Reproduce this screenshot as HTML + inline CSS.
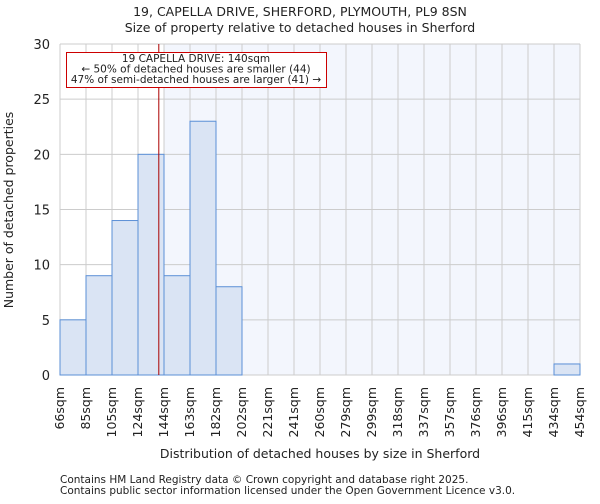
<!DOCTYPE html>
<html><head><meta charset="utf-8"><style>
body{margin:0;background:#fff;font-family:"DejaVu Sans","Liberation Sans",sans-serif}
svg text{font-family:"DejaVu Sans","Liberation Sans",sans-serif;fill:#222}
</style></head><body>
<svg id="chart" width="600" height="500" xmlns="http://www.w3.org/2000/svg">
<text x="300" y="16" font-size="12.5" text-anchor="middle">19, CAPELLA DRIVE, SHERFORD, PLYMOUTH, PL9 8SN</text>
<text x="300" y="32" font-size="12.5" text-anchor="middle">Size of property relative to detached houses in Sherford</text>
<g id="plot"></g>
<text x="320" y="458" font-size="12.5" text-anchor="middle">Distribution of detached houses by size in Sherford</text>
<text transform="translate(13,210) rotate(-90)" font-size="12.5" text-anchor="middle">Number of detached properties</text>
<text x="60" y="483" font-size="10.5">Contains HM Land Registry data © Crown copyright and database right 2025.</text>
<text x="60" y="494" font-size="10.5">Contains public sector information licensed under the Open Government Licence v3.0.</text>
</svg>
<script>
const binLabels=["66sqm","85sqm","105sqm","124sqm","144sqm","163sqm","182sqm","202sqm","221sqm","241sqm","260sqm","279sqm","299sqm","318sqm","337sqm","357sqm","376sqm","396sqm","415sqm","434sqm","454sqm"];
const counts=[5,9,14,20,9,23,8,0,0,0,0,0,0,0,0,0,0,0,0,1];
const yTicks=[0,5,10,15,20,25,30];
const propertyBin=3.8;
const NS="http://www.w3.org/2000/svg";
const L=60,R=580,T=44,B=375,yMax=30;
const nb=counts.length,bw=(R-L)/nb;
const xs=i=>L+i*bw, ys=v=>B-(v/yMax)*(B-T);
const g=document.getElementById('plot');
function mk(t,a){const e=document.createElementNS(NS,t);for(const k in a)e.setAttribute(k,a[k]);g.appendChild(e);return e;}
const px=xs(propertyBin);
let e=mk('rect',{x:L,y:T,width:R-L,height:B-T,fill:'#fff'});


e=mk('rect',{x:xs(Math.ceil(propertyBin)),y:T,width:R-xs(Math.ceil(propertyBin)),height:B-T,fill:'#f3f6fd'});


for(let i=0;i<=nb;i++){e=mk('line',{x1:xs(i),x2:xs(i),y1:T,y2:B,stroke:'#ccc','stroke-width':1});

}
yTicks.forEach(v=>{e=mk('line',{x1:L,x2:R,y1:ys(v),y2:ys(v),stroke:'#ccc','stroke-width':1});


const t=mk('text',{x:L-10,y:ys(v)+5,'font-size':13,'text-anchor':'end'});t.textContent=v;

});
counts.forEach((c,i)=>{if(c<=0)return;e=mk('rect',{x:xs(i),y:ys(c),width:bw,height:B-ys(c),fill:'#dae4f4',stroke:'#5b8fd6','stroke-width':1});

});
binLabels.forEach((l,i)=>{const x=xs(i)+4;const t=mk('text',{x:x,y:387,'font-size':12.5,'text-anchor':'end',transform:`rotate(-90 ${x} 387)`});t.textContent=l;

});
e=mk('line',{x1:px,x2:px,y1:T,y2:B,stroke:'#a00','stroke-width':1});


e=mk('rect',{x:66.5,y:52.5,width:260,height:35,fill:'#fff',stroke:'#c00','stroke-width':1});


["19 CAPELLA DRIVE: 140sqm","← 50% of detached houses are smaller (44)","47% of semi-detached houses are larger (41) →"].forEach((s,k)=>{const t=mk('text',{x:196,y:62+k*10.5,'font-size':10.5,'text-anchor':'middle'});t.textContent=s;

});
</script>
</body></html>
